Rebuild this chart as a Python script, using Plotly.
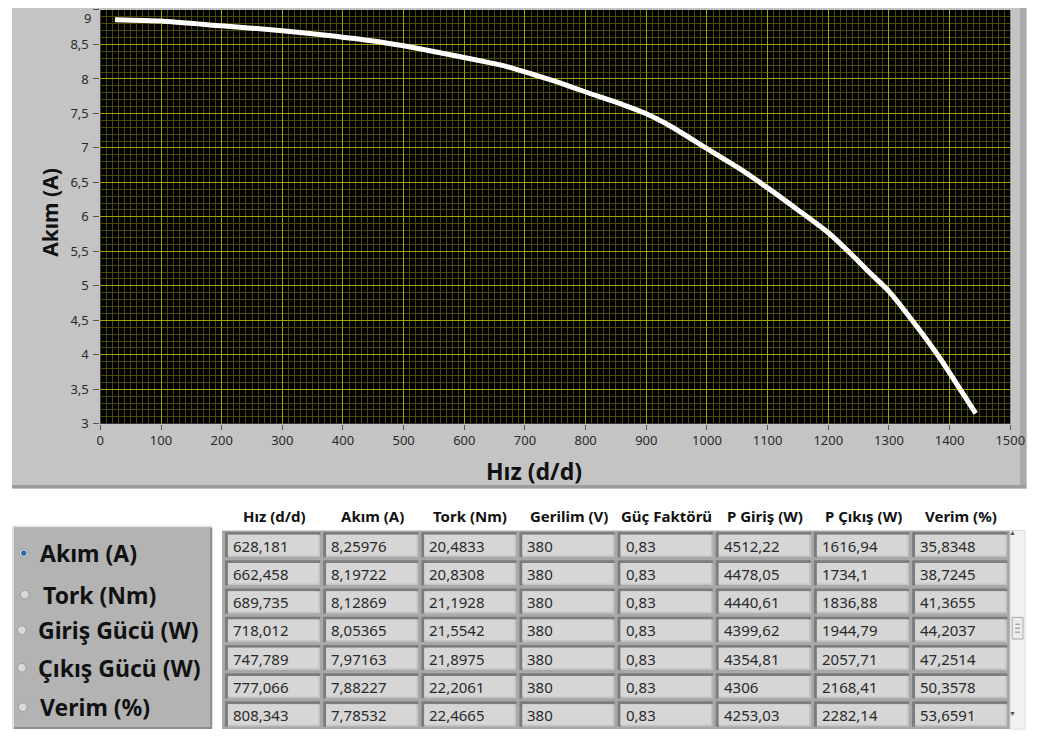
import plotly.graph_objects as go

# ---------------- data ----------------
curve_speed = [24, 100, 200, 300, 376, 450, 500, 560, 628.181, 662.458, 689.735, 718.012,
               747.789, 777.066, 808.343, 862, 900, 943, 1000, 1050, 1100, 1150, 1200,
               1240, 1267, 1300, 1340, 1381, 1443]
curve_current = [8.86, 8.84, 8.77, 8.70, 8.63, 8.55, 8.48, 8.38, 8.25976, 8.19722, 8.12869,
                 8.05365, 7.97163, 7.88227, 7.78532, 7.625, 7.495, 7.30, 6.99, 6.72, 6.42,
                 6.10, 5.77, 5.44, 5.20, 4.92, 4.48, 3.99, 3.15]

x_range = [0, 1500]
y_range = [3, 9]
x_title = "Hız (d/d)"
y_title = "Akım (A)"

table_headers = ["Hız (d/d)", "Akım (A)", "Tork (Nm)", "Gerilim (V)", "Güç Faktörü",
                 "P Giriş (W)", "P Çıkış (W)", "Verim (%)"]
hiz_tab = [628.181, 662.458, 689.735, 718.012, 747.789, 777.066, 808.343]
akim_tab = [8.25976, 8.19722, 8.12869, 8.05365, 7.97163, 7.88227, 7.78532]
tork_tab = [20.4833, 20.8308, 21.1928, 21.5542, 21.8975, 22.2061, 22.4665]
gerilim_tab = [380, 380, 380, 380, 380, 380, 380]
guc_faktoru_tab = [0.83, 0.83, 0.83, 0.83, 0.83, 0.83, 0.83]
p_giris_tab = [4512.22, 4478.05, 4440.61, 4399.62, 4354.81, 4306, 4253.03]
p_cikis_tab = [1616.94, 1734.1, 1836.88, 1944.79, 2057.71, 2168.41, 2282.14]
verim_tab = [35.8348, 38.7245, 41.3655, 44.2037, 47.2514, 50.3578, 53.6591]

radio_options = ["Akım (A)", "Tork (Nm)", "Giriş Gücü (W)", "Çıkış Gücü (W)", "Verim (%)"]
radio_selected = 0

# ---------------- helpers ----------------
# The page body keeps its default 8px margin, so the figure is 16px smaller than the window
OFF = 8
W, H = 1048 - 2 * OFF, 740 - 2 * OFF
FONT = "Noto Sans"
TICKFONT = dict(family=FONT, size=13, color="#2a2a2a")


def px(x):
    return (x - OFF) / W


def py(y):
    return 1 - (y - OFF) / H


def rect(x0, y0, x1, y1, fill, line=None, lw=0):
    return dict(type="rect", xref="paper", yref="paper", x0=px(x0), x1=px(x1),
                y0=py(y1), y1=py(y0), fillcolor=fill,
                line=dict(color=line or fill, width=lw), layer="below")


def fmt(v):
    return ("%g" % v).replace(".", ",")


shapes = []
annotations = []

# chart panel
shapes.append(rect(8, 0, 1042, 495, "#c4c4c4"))
shapes.append(rect(1035, 3, 1041, 493, "#a9a9a9"))
shapes.append(rect(8, 491, 1041, 494, "#9c9c9c"))
# plot area (black)
PX0, PX1, PY0, PY1 = 98, 1025, 10, 429
shapes.append(rect(PX0, PY0, PX1, PY1, "#000000"))

# top tick label that Plotly hides because its box touches the page edge;
# anchored by its top so that it stays inside the page
annotations.append(dict(x=px(PX0 - 9), xref="paper", y=1.0, yref="paper",
                        text=fmt(y_range[1]), showarrow=False, xanchor="right",
                        yanchor="top", borderpad=0, font=TICKFONT))

# radio panel
shapes.append(rect(8, 532, 212, 738, "#e4e4e4"))
shapes.append(rect(10, 534, 212, 738, "#8e8e8e"))
shapes.append(rect(10, 534, 210, 736, "#b3b3b3"))

radio_y = [560, 602, 638, 676, 716]
radio_x = [20, 21, 18, 18, 19]
label_x = [34, 38, 32, 32, 34]
for i, opt in enumerate(radio_options):
    cy = radio_y[i]
    cx = radio_x[i]
    shapes.append(dict(type="circle", xref="paper", yref="paper",
                       x0=px(cx - 4.5), x1=px(cx + 4.5), y0=py(cy + 4.5), y1=py(cy - 4.5),
                       fillcolor="#d8d8d8", line=dict(color="#9a9a9a", width=1),
                       layer="below"))
    if i == radio_selected:
        shapes.append(dict(type="circle", xref="paper", yref="paper",
                           x0=px(cx - 2.5), x1=px(cx + 2.5), y0=py(cy + 2.5),
                           y1=py(cy - 2.5), fillcolor="#2a6bb0",
                           line=dict(color="#1b4f86", width=0.5), layer="below"))
    annotations.append(dict(x=px(label_x[i]), y=py(cy), xref="paper", yref="paper",
                            text="<b>" + opt + "</b>", showarrow=False,
                            xanchor="left", yanchor="middle",
                            font=dict(family=FONT, size=23, color="#111111")))

# table
columns = [hiz_tab, akim_tab, tork_tab, gerilim_tab, guc_faktoru_tab,
           p_giris_tab, p_cikis_tab, verim_tab]
TX0 = 225
CW = 100
TY0 = 537
RH = 28.6
nrows = len(hiz_tab)
shapes.append(rect(TX0 - 3, TY0, TX0 + CW * len(columns), TY0 + RH * nrows + 1, "#a8a8a8"))
for c, (head, col) in enumerate(zip(table_headers, columns)):
    cx0 = TX0 + CW * c
    annotations.append(dict(x=px(cx0 + CW / 2), y=py(522), xref="paper", yref="paper",
                            text="<b>" + head + "</b>", showarrow=False,
                            xanchor="center", yanchor="middle",
                            font=dict(family=FONT, size=15, color="#111111")))
    for r, val in enumerate(col):
        ry0 = TY0 + RH * r + 1.5
        ry1 = ry0 + RH - 3
        shapes.append(rect(cx0, ry0, cx0 + CW - 3, ry1, "#7c7c7c"))
        shapes.append(rect(cx0 + 3, ry0 + 3, cx0 + CW - 3, ry1, "#c4c4c4"))
        shapes.append(rect(cx0 + 3, ry0 + 3, cx0 + CW - 5, ry1 - 2, "#d6d6d6"))
        annotations.append(dict(x=px(cx0 + 6), y=py((ry0 + ry1) / 2 + 1), xref="paper",
                                yref="paper", text=fmt(val), showarrow=False,
                                xanchor="left", yanchor="middle",
                                font=dict(family=FONT, size=15, color="#2a2a2a")))

# scrollbar
SX0, SX1 = 1025, 1040
shapes.append(rect(SX0, TY0, SX1, TY0 + RH * nrows + 1, "#f2f2f2", "#dedede", 1))
shapes.append(rect(SX0 + 2, 625, SX1 - 2, 647, "#ececec", "#a8a8a8", 1))
for ly in [632, 636, 640]:
    shapes.append(dict(type="line", xref="paper", yref="paper", x0=px(SX0 + 5),
                       x1=px(SX1 - 5), y0=py(ly), y1=py(ly),
                       line=dict(color="#8a8a8a", width=1), layer="below"))
annotations.append(dict(x=px((SX0 + SX1) / 2), y=py(546), xref="paper", yref="paper",
                        text="▲", showarrow=False, font=dict(size=7, color="#555555")))
annotations.append(dict(x=px((SX0 + SX1) / 2), y=py(729), xref="paper", yref="paper",
                        text="▼", showarrow=False, font=dict(size=7, color="#555555")))

# axis titles
annotations.append(dict(x=px(540), y=py(477), xref="paper", yref="paper",
                        text="<b>" + x_title + "</b>", showarrow=False,
                        xanchor="center", yanchor="middle",
                        font=dict(family=FONT, size=23, color="#111111")))
annotations.append(dict(x=px(47), y=py(215), xref="paper", yref="paper",
                        text="<b>" + y_title + "</b>", showarrow=False, textangle=-90,
                        xanchor="center", yanchor="middle",
                        font=dict(family=FONT, size=21, color="#111111")))

# ---------------- figure ----------------
fig = go.Figure()
fig.add_trace(go.Scatter(x=curve_speed, y=curve_current, mode="lines",
                         line=dict(color="#ffffff", width=5, shape="spline", smoothing=0.6),
                         hoverinfo="x+y", showlegend=False))

MAJOR = "#a0a000"
MINOR = "#4a4a00"
fig.update_layout(
    width=W, height=H,
    margin=dict(l=0, r=0, t=0, b=0),
    paper_bgcolor="#ffffff",
    plot_bgcolor="#000000",
    separators=",.",
    showlegend=False,
    font=dict(family=FONT, color="#2a2a2a"),
    xaxis=dict(domain=[px(PX0), px(PX1)], range=x_range, dtick=100, tick0=0,
               showgrid=True, gridcolor=MAJOR, gridwidth=1, zeroline=False,
               ticks="outside", ticklen=5, tickcolor="#555555", tickwidth=1,
               tickfont=TICKFONT,
               minor=dict(dtick=10, showgrid=True, gridcolor=MINOR, gridwidth=1, ticks=""),
               showline=False, fixedrange=True),
    yaxis=dict(domain=[py(PY1), py(PY0)], range=y_range, dtick=0.5, tick0=3,
               showgrid=True, gridcolor=MAJOR, gridwidth=1, zeroline=False,
               ticks="outside", ticklen=6, tickcolor="#555555", tickwidth=1,
               ticklabelstandoff=2,
               tickfont=TICKFONT,
               minor=dict(dtick=0.1, showgrid=True, gridcolor=MINOR, gridwidth=1, ticks=""),
               showline=False, fixedrange=True),
    shapes=shapes,
    annotations=annotations,
)

fig.write_html("out.html", config={"displayModeBar": False})
